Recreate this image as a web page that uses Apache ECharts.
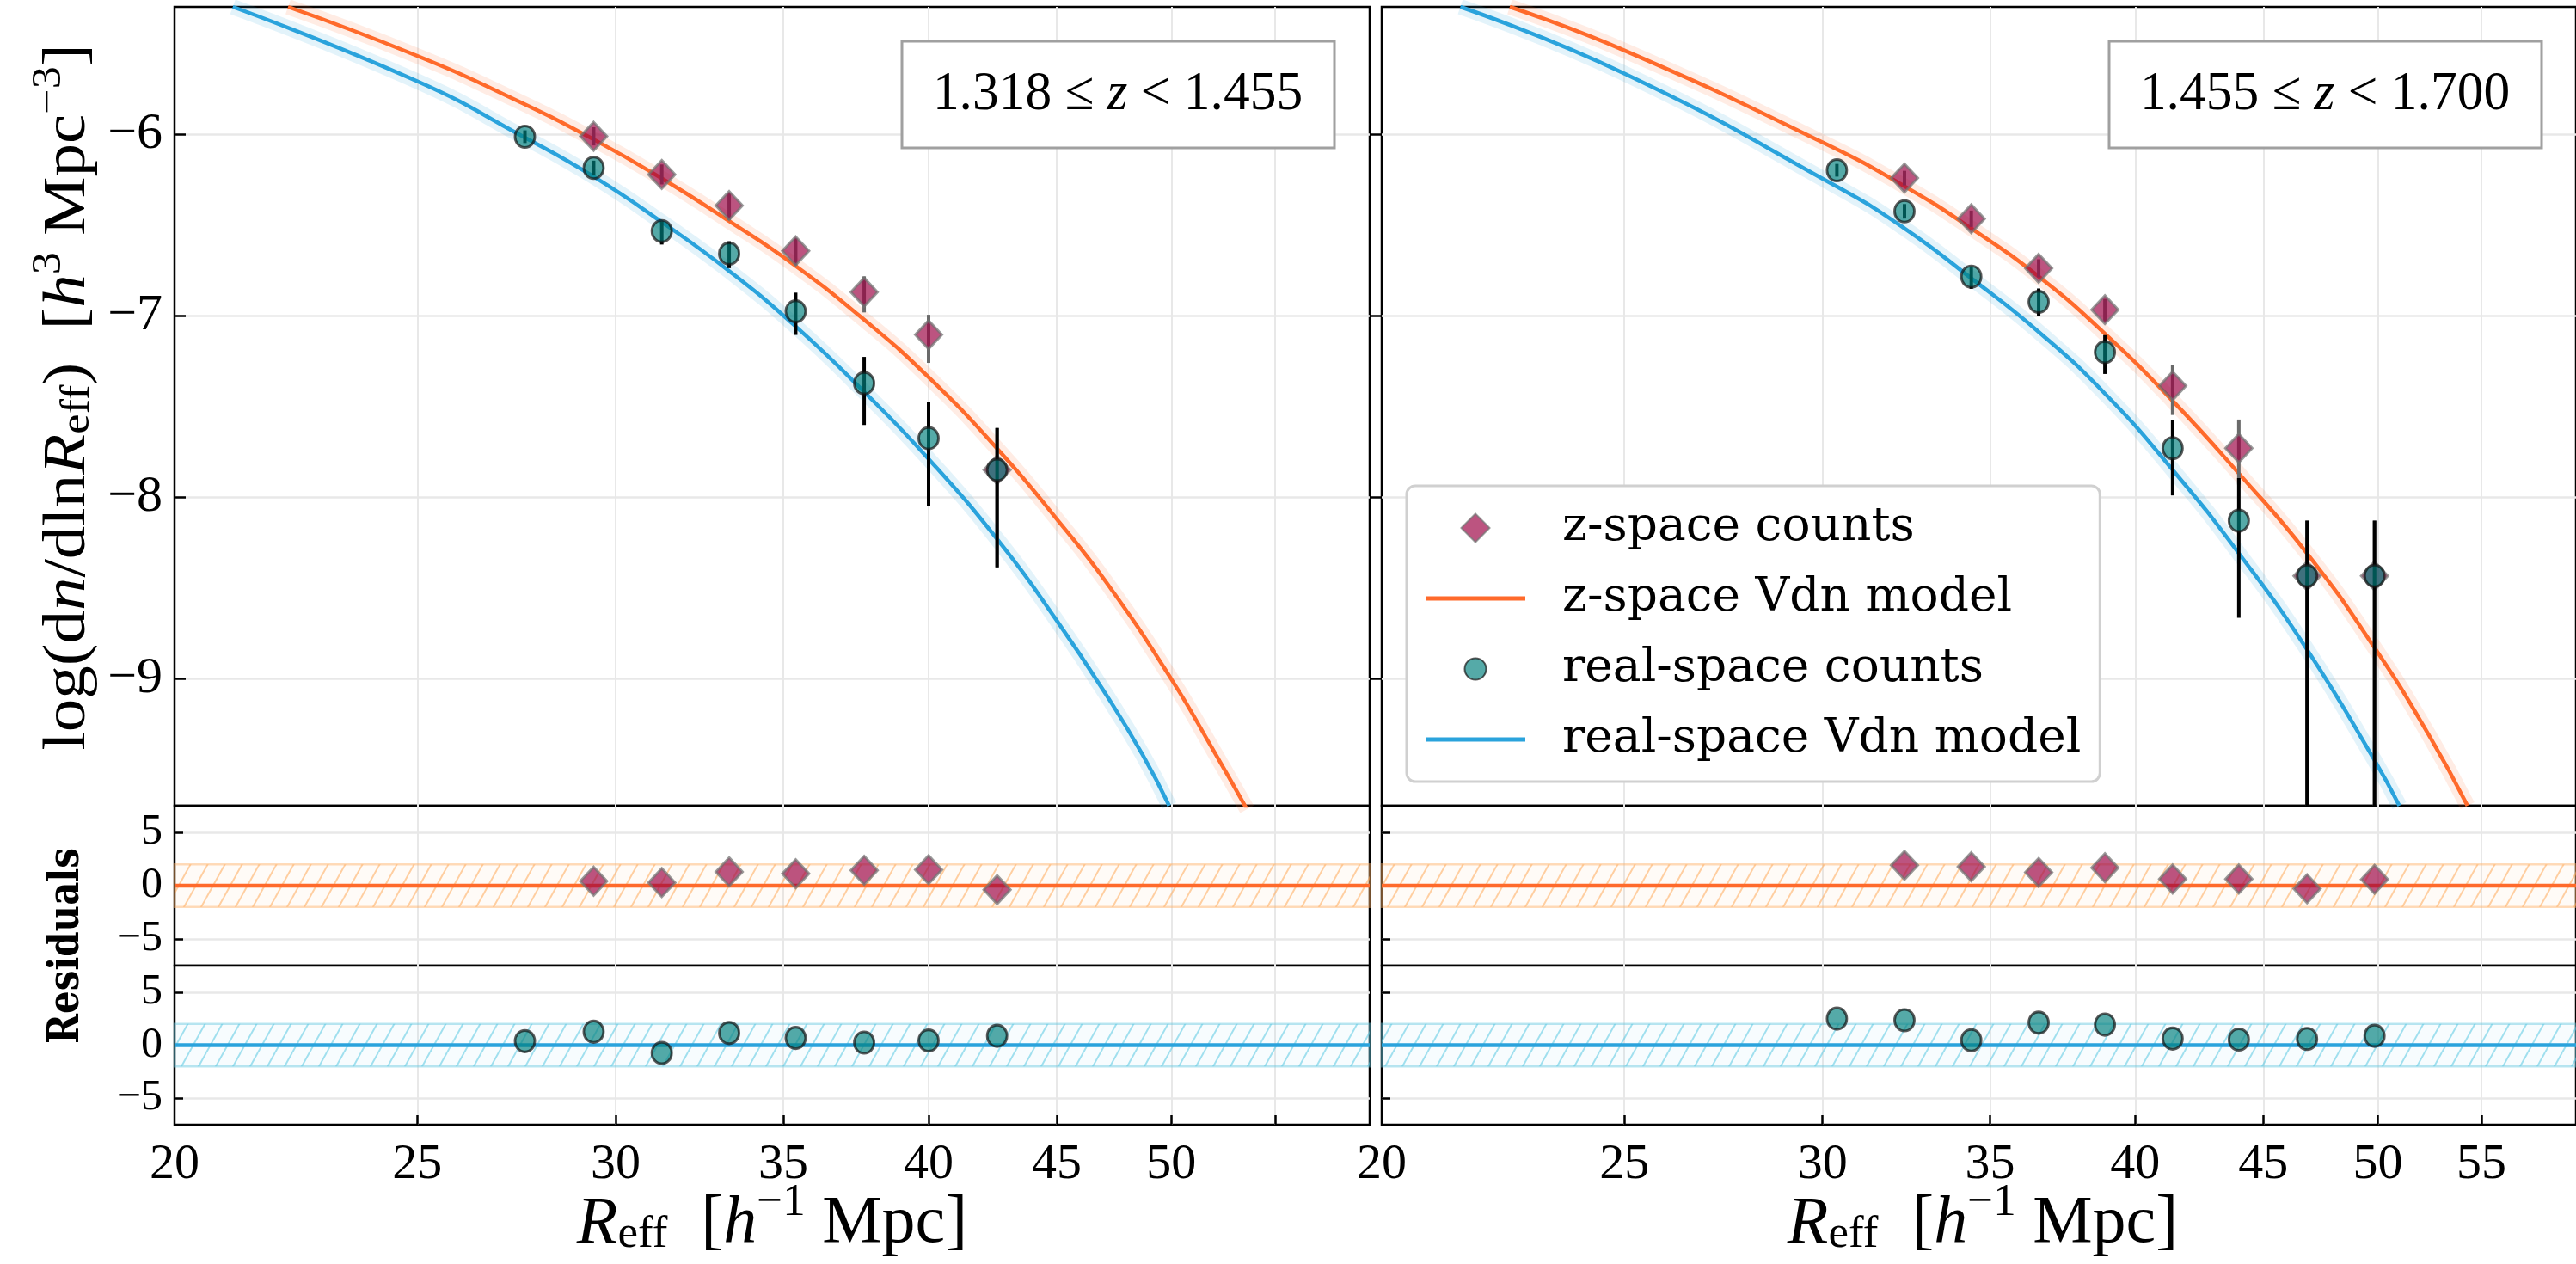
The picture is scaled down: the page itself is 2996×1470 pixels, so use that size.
<!DOCTYPE html>
<html>
<head>
<meta charset="utf-8">
<script src="https://cdn.jsdelivr.net/npm/echarts@6/dist/echarts.min.js"></script>
<style>
  html, body { margin: 0; padding: 0; background: #ffffff; }
  #chart { width: 2996px; height: 1470px; }
</style>
</head>
<body>
<div id="chart"></div>
<script>
// ---------------- data ----------------
// Redshift slices
const sliceLabels = ['1.318 ≤ ', '1.455 ≤ '];
const sliceUpper = [' < 1.455', ' < 1.700'];

// Bin centres R_eff [h^-1 Mpc]
const realBinsLow  = [27.6, 29.4, 31.3, 33.3, 35.4, 37.7, 40.0, 42.6];
const zBinsLow     = [29.4, 31.3, 33.3, 35.4, 37.7, 40.0, 42.6];
const realBinsHigh = [30.4, 32.35, 34.4, 36.6, 38.9, 41.4, 44.0, 46.85, 49.85];
const zBinsHigh    = [32.35, 34.4, 36.6, 38.9, 41.4, 44.0, 46.85, 49.85];

// log(dn/dlnR_eff) measured counts and asymmetric errors
const realLow      = [-6.015, -6.187, -6.535, -6.659, -6.977, -7.373, -7.676, -7.850];
const realLowUp    = [0.035, 0.04, 0.053, 0.068, 0.103, 0.145, 0.198, 0.23];
const realLowDown  = [0.035, 0.04, 0.074, 0.08, 0.13, 0.23, 0.372, 0.537];
const zLow         = [-6.013, -6.223, -6.394, -6.644, -6.871, -7.106, -7.85];
const zLowUp       = [0.05, 0.055, 0.068, 0.07, 0.087, 0.11, 0.23];
const zLowDown     = [0.05, 0.055, 0.08, 0.08, 0.112, 0.155, 0.537];

const realHigh     = [-6.200, -6.426, -6.786, -6.925, -7.202, -7.731, -8.130, -8.434, -8.434];
const realHighUp   = [0.035, 0.04, 0.055, 0.074, 0.094, 0.154, 0.234, 0.304, 0.304];
const realHighDown = [0.035, 0.04, 0.067, 0.08, 0.12, 0.26, 0.535, 1.5, 1.5];
const zHigh        = [-6.243, -6.467, -6.740, -6.968, -7.388, -7.731, -8.434, -8.434];
const zHighUp      = [0.04, 0.045, 0.05, 0.06, 0.114, 0.158, 0.304, 0.304];
const zHighDown    = [0.04, 0.045, 0.05, 0.065, 0.16, 0.2, 1.5, 1.5];

// Normalised residuals
const zResLow     = [0.42, 0.29, 1.30, 1.12, 1.44, 1.50, -0.38];
const realResLow  = [0.38, 1.27, -0.74, 1.15, 0.68, 0.24, 0.44, 0.88];
const zResHigh    = [1.91, 1.77, 1.24, 1.68, 0.62, 0.62, -0.29, 0.59];
const realResHigh = [2.50, 2.35, 0.47, 2.12, 1.94, 0.62, 0.53, 0.59, 0.88];

// Vdn model curves (R_eff, log dn/dlnR)
const zModelLowR     = [22.2, 25.0, 27.4, 29.4, 31.3, 33.3, 35.3, 37.6, 40.0, 42.8, 45.0, 47.1, 50.0, 51.9, 53.6];
const zModelLow      = [-5.30, -5.57, -5.816, -6.03, -6.245, -6.48, -6.715, -7.01, -7.34, -7.764, -8.121, -8.47, -9.003, -9.381, -9.72];
const realModelLowR  = [21.1, 25.0, 27.6, 29.4, 31.3, 33.3, 35.4, 37.6, 40.0, 42.8, 45.0, 47.1, 48.7, 49.9];
const realModelLow   = [-5.30, -5.71, -6.02, -6.235, -6.485, -6.755, -7.06, -7.405, -7.79, -8.267, -8.68, -9.09, -9.42, -9.70];
const zModelHighR    = [22.5, 25.0, 30.0, 32.35, 34.4, 36.6, 38.9, 41.4, 44.0, 46.85, 49.85, 52.4, 54.3];
const zModelHigh     = [-5.30, -5.54, -6.046, -6.288, -6.52, -6.785, -7.10, -7.47, -7.87, -8.31, -8.83, -9.31, -9.70];
const realModelHighR = [21.5, 25.0, 30.4, 32.35, 34.4, 36.6, 38.9, 41.4, 44.0, 46.85, 49.85, 51.0];
const realModelHigh  = [-5.30, -5.667, -6.29, -6.52, -6.795, -7.09, -7.43, -7.85, -8.31, -8.84, -9.45, -9.70];

// Residual reference band and zero level
const residBand = [-2, 2];
const residZero = 0;

// Axis ticks
const xTickValues      = [25, 30, 35, 40, 45, 50, 55];
const xTickLabelsLeft  = [20, 25, 30, 35, 40, 45, 50];
const xTickLabelsRight = [20, 25, 30, 35, 40, 45, 50, 55];
const yMainTicks  = [-9, -8, -7, -6];
const yResidTicks = [-5, 0, 5];

// ---------------- styling ----------------
const X_MIN = 20, X_MAX = 60;
const Y_MAIN = [-9.7, -5.3];
const Y_RESID = [-7.5, 7.5];

const ORANGE = '#ff6a2b';
const BLUE = '#2aa3dc';
const TEX = 'Liberation Serif';
const DIAMOND_FILL = 'rgba(155, 0, 65, 0.84)';
const DIAMOND_EDGE = 'rgba(115, 115, 115, 0.9)';
const CIRCLE_FILL = 'rgba(0, 128, 124, 0.83)';
const CIRCLE_EDGE = 'rgba(20, 20, 20, 0.88)';

const colLeft = [203, 1607];
const colWidth = [1390, 1389];
const rowTop = [8, 937, 1123];
const rowHeight = [929, 186, 185];

// Diagonal hatch tile for the residual bands
function hatchPattern(lineColor, fillColor) {
  const w = 20, h = 36;
  const c = document.createElement('canvas');
  c.width = w; c.height = h;
  const g = c.getContext('2d');
  g.fillStyle = fillColor;
  g.fillRect(0, 0, w, h);
  g.strokeStyle = lineColor;
  g.lineWidth = 2;
  g.beginPath();
  for (let k = -1; k <= 1; k++) {
    g.moveTo(k * w, h);
    g.lineTo((k + 1) * w, 0);
  }
  g.stroke();
  return { image: c, repeat: 'repeat' };
}

const minus = v => String(Math.round(v)).replace('-', '\u2212');

const grids = [], xAxes = [], yAxes = [];
for (let c = 0; c < 2; c++) {
  for (let r = 0; r < 3; r++) {
    grids.push({
      left: colLeft[c], top: rowTop[r], width: colWidth[c], height: rowHeight[r],
      show: true, borderColor: '#000', borderWidth: 2.5, backgroundColor: '#fff'
    });
    const gi = grids.length - 1;
    const bottom = r === 2;
    xAxes.push({
      type: 'log', logBase: 10, gridIndex: gi, min: X_MIN, max: X_MAX,
      position: 'bottom',
      axisLine: { show: false, onZero: false },
      splitLine: { show: true, lineStyle: { color: '#e8e8e8', width: 2 } },
      axisTick: {
        show: bottom, inside: true, length: 11,
        lineStyle: { color: '#000', width: 2.5 },
        customValues: xTickValues
      },
      axisLabel: {
        show: bottom, customValues: c === 0 ? xTickLabelsLeft : xTickLabelsRight,
        fontFamily: TEX, fontSize: 58, color: '#000', margin: 18,
        formatter: v => String(Math.round(v))
      }
    });
    const main = r === 0;
    yAxes.push({
      type: 'value', gridIndex: gi,
      min: main ? Y_MAIN[0] : Y_RESID[0], max: main ? Y_MAIN[1] : Y_RESID[1],
      axisLine: { show: false, onZero: false },
      splitLine: { show: true, lineStyle: { color: '#e8e8e8', width: 2.5 } },
      axisTick: {
        show: true, inside: !(main && c === 1), length: main ? 13 : 10,
        lineStyle: { color: '#000', width: 2.5 },
        customValues: main ? yMainTicks : yResidTicks
      },
      axisLabel: {
        show: c === 0, customValues: main ? yMainTicks : yResidTicks,
        fontFamily: TEX, fontSize: main ? 60 : 50, color: '#000', margin: 14,
        formatter: minus
      }
    });
  }
}
// axis index: column * 3 + row

const series = [];

function modelSeries(name, ai, rs, ys, color, z) {
  const data = rs.map((r, i) => [r, ys[i]]);
  series.push({
    type: 'line', name: name + ' band', xAxisIndex: ai, yAxisIndex: ai, data,
    smooth: 0.5, showSymbol: false, symbol: 'none', clip: true,
    lineStyle: { color, width: 18, opacity: 0.13 }, z, silent: true
  });
  series.push({
    type: 'line', name, xAxisIndex: ai, yAxisIndex: ai, data,
    smooth: 0.5, showSymbol: false, symbol: 'none', clip: true,
    itemStyle: { color }, lineStyle: { color, width: 4.5 }, z: z + 1, silent: true
  });
}

function errorBars(ai, rs, ys, up, down, color, z) {
  series.push({
    type: 'custom', name: 'err', xAxisIndex: ai, yAxisIndex: ai, clip: true, z, silent: true,
    data: rs.map((r, i) => [r, ys[i] + up[i], ys[i] - down[i]]),
    encode: { x: 0, y: [1, 2] },
    renderItem(params, api) {
      const a = api.coord([api.value(0), api.value(1)]);
      const b = api.coord([api.value(0), api.value(2)]);
      return { type: 'line', shape: { x1: a[0], y1: a[1], x2: b[0], y2: b[1] },
               style: { stroke: color, lineWidth: 4 } };
    }
  });
}

function points(name, ai, rs, ys, kind, z) {
  const diamond = kind === 'diamond';
  series.push({
    type: 'scatter', name, xAxisIndex: ai, yAxisIndex: ai, z, silent: true,
    data: rs.map((r, i) => [r, ys[i]]),
    symbol: diamond ? 'diamond' : 'circle',
    symbolSize: diamond ? [31, 33] : [23, 25],
    itemStyle: {
      color: diamond ? DIAMOND_FILL : CIRCLE_FILL,
      borderColor: diamond ? DIAMOND_EDGE : CIRCLE_EDGE,
      borderWidth: 3
    }
  });
}

function residPanel(ai, color, lineColor, fillColor, edgeColor) {
  series.push({
    type: 'line', name: 'zero', xAxisIndex: ai, yAxisIndex: ai, silent: true,
    data: [[X_MIN, residZero], [X_MAX, residZero]], showSymbol: false, symbol: 'none',
    lineStyle: { color, width: 4.5 }, z: 3,
    markArea: {
      silent: true,
      itemStyle: { color: hatchPattern(lineColor, fillColor), borderColor: edgeColor, borderWidth: 2.5 },
      data: [[{ coord: [X_MIN, residBand[0]] }, { coord: [X_MAX, residBand[1]] }]]
    }
  });
}

const sets = [
  { zb: zBinsLow, z: zLow, zu: zLowUp, zd: zLowDown, rb: realBinsLow, re: realLow, ru: realLowUp, rd: realLowDown,
    zm: [zModelLowR, zModelLow], rm: [realModelLowR, realModelLow], zr: zResLow, rr: realResLow },
  { zb: zBinsHigh, z: zHigh, zu: zHighUp, zd: zHighDown, rb: realBinsHigh, re: realHigh, ru: realHighUp, rd: realHighDown,
    zm: [zModelHighR, zModelHigh], rm: [realModelHighR, realModelHigh], zr: zResHigh, rr: realResHigh }
];

sets.forEach((s, c) => {
  const m = c * 3, r1 = c * 3 + 1, r2 = c * 3 + 2;
  modelSeries('z-space Vdn model', m, s.zm[0], s.zm[1], ORANGE, 2);
  modelSeries('real-space Vdn model', m, s.rm[0], s.rm[1], BLUE, 2);
  errorBars(m, s.zb, s.z, s.zu, s.zd, '#6a6a6a', 5);
  points('z-space counts', m, s.zb, s.z, 'diamond', 6);
  errorBars(m, s.rb, s.re, s.ru, s.rd, '#000', 7);
  points('real-space counts', m, s.rb, s.re, 'circle', 8);

  residPanel(r1, ORANGE, 'rgba(255, 170, 90, 0.55)', 'rgba(255, 200, 150, 0.08)', 'rgba(255, 175, 100, 0.45)');
  points('z-space counts', r1, s.zb, s.zr, 'diamond', 6);
  residPanel(r2, BLUE, 'rgba(90, 200, 225, 0.55)', 'rgba(150, 220, 240, 0.08)', 'rgba(100, 200, 225, 0.45)');
  points('real-space counts', r2, s.rb, s.rr, 'circle', 8);
});

// ---------------- text ----------------
const richTex = size => ({
  rm:  { fontFamily: TEX, fontSize: size, lineHeight: size * 1.45, color: '#000' },
  it:  { fontFamily: TEX, fontStyle: 'italic', fontSize: size, lineHeight: size * 1.45, color: '#000' },
  sup: { fontFamily: TEX, fontSize: size * 0.68, height: size * 0.8, verticalAlign: 'top', color: '#000' },
  sub: { fontFamily: TEX, fontSize: size * 0.68, height: size * 1.15, verticalAlign: 'bottom', color: '#000' }
});

const graphic = [
  {
    type: 'text', x: 80, y: 462, rotation: Math.PI / 2, scaleX: 1.1, silent: true,
    style: {
      text: '{rm|log(d}{it|n}{rm|/dln}{it|R}{sub|eff}{rm|)  [}{it|h}{sup|3}{rm| Mpc}{sup|\u22123}{rm|]}',
      rich: richTex(70), align: 'center', verticalAlign: 'middle'
    }
  },
  {
    type: 'text', x: 78, y: 1100, rotation: Math.PI / 2, scaleX: 0.84, silent: true,
    style: { text: 'Residuals', fontFamily: 'DejaVu Serif', fontWeight: 'bold', fontSize: 50, fill: '#000',
             align: 'center', verticalAlign: 'middle' }
  }
];
[898, 2306].forEach(cx => {
  graphic.push({
    type: 'text', x: cx, y: 1424, silent: true,
    style: {
      text: '{it|R}{sub|eff}{rm|  [}{it|h}{sup|\u22121}{rm| Mpc]}',
      rich: richTex(78), align: 'center', verticalAlign: 'middle'
    }
  });
});
[[1049, 0], [2453, 1]].forEach(([bx, i]) => {
  graphic.push({
    type: 'rect', silent: true, shape: { x: bx, y: 48, width: 503, height: 124 },
    style: { fill: '#fff', stroke: '#a0a0a0', lineWidth: 3 }, z: 100
  });
  graphic.push({
    type: 'text', silent: true, x: bx + 251, y: 110, z: 101, scaleX: 0.96,
    style: {
      text: '{rm|' + sliceLabels[i] + '}{it|z}{rm|' + sliceUpper[i] + '}',
      rich: richTex(64), align: 'center', verticalAlign: 'middle'
    }
  });
});

// Legend handles: a fixed 116x34 box keeps every icon at its own proportions
const ICON_DIAMOND = 'path://M0,0 M116,34 M58,0.5 L74.5,17 L58,33.5 L41.5,17 Z';
const ICON_CIRCLE = 'path://M0,0 M116,34 M45.5,17 A12.5,12.5 0 1,1 70.5,17 A12.5,12.5 0 1,1 45.5,17 Z';
const ICON_LINE = 'path://M0,0 M116,34 M0,14.5 L116,14.5 L116,19.5 L0,19.5 Z';

const chart = echarts.init(document.getElementById('chart'), null, { renderer: 'canvas', width: 2996, height: 1470 });
chart.setOption({
  animation: false,
  backgroundColor: '#fff',
  grid: grids, xAxis: xAxes, yAxis: yAxes, series,
  legend: {
    data: [
      { name: 'z-space counts', icon: ICON_DIAMOND },
      { name: 'z-space Vdn model', icon: ICON_LINE, itemStyle: { color: ORANGE, borderWidth: 0 } },
      { name: 'real-space counts', icon: ICON_CIRCLE },
      { name: 'real-space Vdn model', icon: ICON_LINE, itemStyle: { color: BLUE, borderWidth: 0 } }
    ],
    orient: 'vertical', left: 1636, top: 565, selectedMode: false,
    itemWidth: 116, itemHeight: 34, itemGap: 22,
    padding: [19, 22, 19, 21],
    backgroundColor: '#fff', borderColor: '#d0d0d0', borderWidth: 3, borderRadius: 10,
    textStyle: { fontFamily: 'DejaVu Serif', fontSize: 55, lineHeight: 60, color: '#000', padding: [0, 0, 0, 38] }
  },
  graphic
});
</script>
</body>
</html>
